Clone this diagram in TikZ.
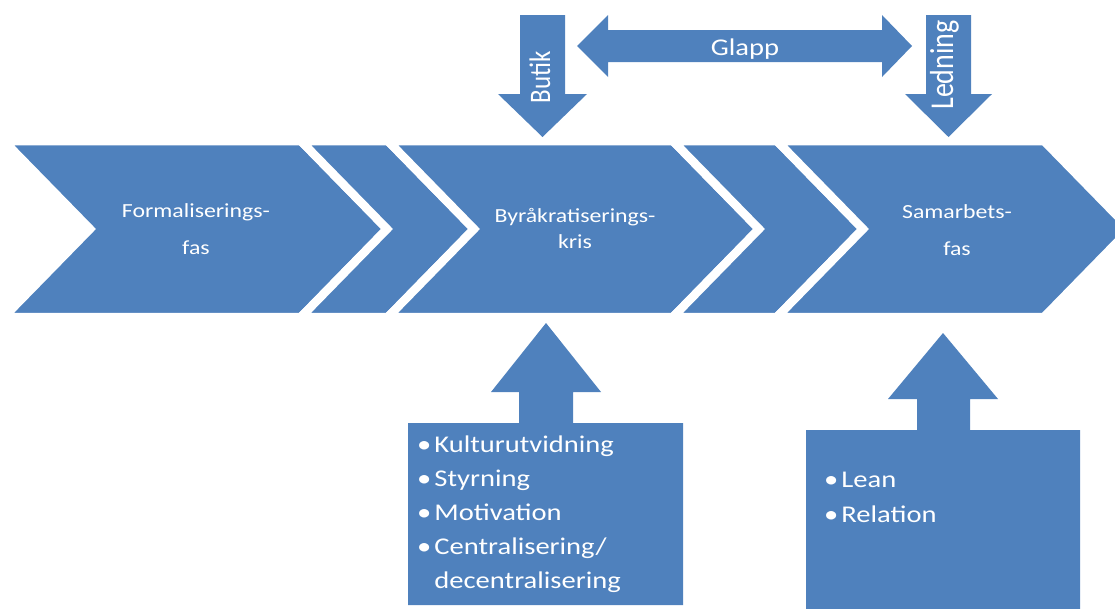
\documentclass[tikz,border=0pt]{standalone}
\usepackage{fontspec}
\setmainfont{Carlito}[FakeStretch=1.19]
\newfontfamily\sidefont{Carlito}
\definecolor{phase}{HTML}{4F81BD}
\begin{document}
\begin{tikzpicture}[x=1pt,y=-1pt,
  chev/.style={fill=phase,draw=white,line width=8.5pt,line join=miter},
  block/.style={fill=phase},
  lbl/.style={text=white,inner sep=0pt},
  phasetext/.style={lbl,anchor=base,font=\fontsize{20}{24}\selectfont},
  listtext/.style={lbl,anchor=base west},
  sidetext/.style={lbl,anchor=base,rotate=90}]
\clip (0,0) rectangle (1115,608);

% process chevrons, each sharing its slanted edge with the next
\foreach \l/\r in {4/301,301/388,388/673,673/777,777/1044}
  \draw[chev] (\l,141) -- (\r,141) -- (\r+86,229) -- (\r,317) -- (\l,317) -- (\l+86,229) -- cycle;

\node[phasetext] (formal) at (196,217)
  {\begin{tabular}[t]{@{}c@{}}Formaliserings-\\[13pt]fas\end{tabular}};
\node[phasetext] (byrakrati) at (575,222)
  {\begin{tabular}[t]{@{}c@{}}Byråkratiserings-\\[2pt]kris\end{tabular}};
\node[phasetext] (samarbete) at (957,218)
  {\begin{tabular}[t]{@{}c@{}}Samarbets-\\[13pt]fas\end{tabular}};

% downward arrows above the chevrons
\fill[block] (520,15) -- (565,15) -- (565,94) -- (587,94) -- (542.5,137)
  -- (498,94) -- (520,94) -- cycle;
\node[sidetext] (butik) at (550,77)
  {\scalebox{1}[1.19]{\sidefont\fontsize{25}{30}\selectfont Butik}};

\fill[block] (926,15) -- (971,15) -- (971,94) -- (992,94) -- (948.5,137)
  -- (905,94) -- (926,94) -- cycle;
\node[sidetext] (ledning) at (953,65)
  {\scalebox{1}[1.19]{\sidefont\fontsize{28}{33}\selectfont Ledning}};

% double arrow between the two
\fill[block] (577,46) -- (608,15) -- (608,30) -- (882,30) -- (882,15) -- (912,46)
  -- (882,77) -- (882,62) -- (608,62) -- (608,77) -- cycle;
\node[lbl,anchor=base,font=\fontsize{24}{28}\selectfont] (glapp) at (745,55) {Glapp};

% upward callouts below the chevrons
\fill[block] (408,423) -- (519,423) -- (519,392) -- (491,392) -- (546,323)
  -- (601,392) -- (573,392) -- (573,423) -- (683,423) -- (683,605) -- (408,605) -- cycle;
\node[listtext] (factors) at (417,452)
  {\fontsize{24}{34}\selectfont
   \begin{tabular}[t]{@{}l@{\hspace{3pt}}l@{}}
   • & Kulturutvidning\\
   • & Styrning\\
   • & Motivation\\
   • & Centralisering/\\
     & decentralisering
   \end{tabular}};

\fill[block] (806,430) -- (917,430) -- (917,399) -- (888,399) -- (943,333)
  -- (998,399) -- (970,399) -- (970,430) -- (1080,430) -- (1080,612) -- (806,612) -- cycle;
\node[listtext] (methods) at (824,487)
  {\fontsize{24}{35}\selectfont
   \begin{tabular}[t]{@{}l@{\hspace{3pt}}l@{}}
   • & Lean\\
   • & Relation
   \end{tabular}};
\end{tikzpicture}
\end{document}
